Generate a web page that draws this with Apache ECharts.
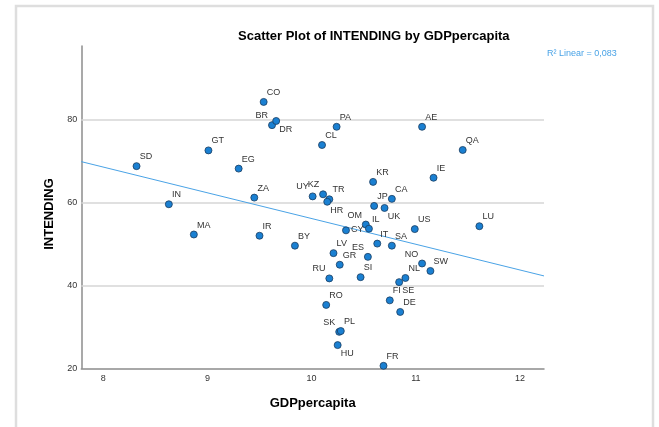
<!DOCTYPE html>
<html>
<head>
<meta charset="utf-8">
<script src="https://cdn.jsdelivr.net/npm/echarts@6/dist/echarts.min.js"></script>
<style>
html,body{margin:0;padding:0;background:#fff;}
#chart{width:659px;height:427px;}
</style>
</head>
<body>
<div id="chart"></div>
<script>
// ---- data ----
const countries = ['CO','BR','DR','GT','SD','EG','ZA','IN','MA','IR','BY','PA','AE','CL','QA','KR','IE','UY','KZ','TR','HR','CA','JP','UK','OM','IL','CY','US','LU','IT','SA','LV','ES','GR','NO','SW','NL','RU','SI','SE','FI','DE','RO','SK','PL','HU','FR'];
const gdpPerCapita = [9.54,9.62,9.66,9.01,8.32,9.30,9.45,8.63,8.87,9.50,9.84,10.24,11.06,10.10,11.45,10.59,11.17,10.01,10.11,10.17,10.15,10.77,10.60,10.70,10.52,10.55,10.33,10.99,11.61,10.63,10.77,10.21,10.54,10.27,11.06,11.14,10.90,10.17,10.47,10.84,10.75,10.85,10.14,10.265,10.28,10.25,10.69];
const intending = [84.3,78.7,79.7,72.6,68.8,68.2,61.2,59.6,52.3,52.0,49.6,78.3,78.3,73.9,72.7,65.0,66.0,61.5,62.0,60.8,60.2,60.9,59.2,58.7,54.7,53.7,53.3,53.6,54.3,50.1,49.6,47.8,46.9,45.0,45.3,43.5,41.8,41.7,42.0,40.8,36.4,33.6,35.3,28.8,29.0,25.6,20.6];
const xTicks = [8, 9, 10, 11, 12];
const yTicks = [20, 40, 60, 80];
const xRange = [7.79, 12.23];
const yRange = [20, 97.8];
const chartTitle = 'Scatter Plot of INTENDING by GDPpercapita';
const xTitle = 'GDPpercapita';
const yTitle = 'INTENDING';
const fitLabel = 'R\u00B2 Linear = 0,083';

// ---- label placement (layout only) ----
const labelPlace = {BR:'ul',DR:'lr',UY:'ul',KZ:'ul',HR:'lr',UK:'lr',OM:'ul',CY:'r',ES:'ul',NO:'ul',RU:'ul',SE:'lr',SK:'ul',HU:'lr'};
const placeCfg = {
  ur:{position:[7,-5.5],align:'left',verticalAlign:'middle'},
  ul:{position:[0,-5.5],align:'right',verticalAlign:'middle'},
  lr:{position:[7,12.5],align:'left',verticalAlign:'middle'},
  r:{position:[9,3.5],align:'left',verticalAlign:'middle'}
};

// least-squares fit computed from the data
const n = gdpPerCapita.length;
const mx = gdpPerCapita.reduce((a,b)=>a+b,0)/n;
const my = intending.reduce((a,b)=>a+b,0)/n;
let sxy=0, sxx=0;
for(let i=0;i<n;i++){sxy+=(gdpPerCapita[i]-mx)*(intending[i]-my);sxx+=(gdpPerCapita[i]-mx)**2;}
const slope = sxy/sxx, icpt = my - slope*mx;
const fitData = xRange.map(x=>[x, icpt+slope*x]);

const points = countries.map((c,i)=>({
  name:c, value:[gdpPerCapita[i], intending[i]],
  label:Object.assign({show:true, formatter:'{b}'}, placeCfg[labelPlace[c]||'ur'])
}));

const FONT = 'Liberation Sans, Arial, sans-serif';
const chart = echarts.init(document.getElementById('chart'));
chart.setOption({
  animation:false,
  backgroundColor:'#ffffff',
  title:{text:chartTitle,left:238,top:30,padding:0,
    textStyle:{fontFamily:FONT,fontSize:13,fontWeight:'bold',color:'#000'}},
  graphic:[
    {type:'rect',shape:{x:16,y:6,width:637,height:440},style:{fill:'none',stroke:'#dedede',lineWidth:2.5},z:-1},
    {type:'text',x:547,y:53.5,style:{text:fitLabel,fill:'#4aa3e6',font:'9px "Liberation Sans", Arial, sans-serif',verticalAlign:'middle'}},
    {type:'text',x:49,y:214,rotation:Math.PI/2,
      style:{text:yTitle,fill:'#000',font:'bold 13px "Liberation Sans", Arial, sans-serif',align:'center',verticalAlign:'middle'}}
  ],
  grid:{left:81.3,right:115,top:46,bottom:58.7,containLabel:false},
  xAxis:{type:'value',min:xRange[0],max:xRange[1],minInterval:1,maxInterval:1,
    name:xTitle,nameLocation:'middle',nameGap:29,
    nameTextStyle:{fontFamily:FONT,fontSize:13,fontWeight:'bold',color:'#000'},
    axisLine:{show:true,lineStyle:{color:'#8c8c8c',width:1.5}},
    axisTick:{show:false},splitLine:{show:false},
    axisLabel:{showMinLabel:false,showMaxLabel:false,margin:6,color:'#333',fontSize:9,fontFamily:FONT,
      formatter:v=>xTicks.includes(Math.round(v*1000)/1000)?String(v):''}},
  yAxis:{type:'value',min:yRange[0],max:yRange[1],interval:20,
    axisLine:{show:true,lineStyle:{color:'#8c8c8c',width:1.5}},
    axisTick:{show:false},splitLine:{show:false},
    axisLabel:{showMaxLabel:false,margin:4,color:'#333',fontSize:9,fontFamily:FONT,
      formatter:v=>yTicks.includes(v)?String(v):''}},
  series:[
    {type:'line',data:fitData,showSymbol:false,symbol:'none',silent:true,z:2,
      lineStyle:{color:'#4aa3e6',width:1},
      markLine:{silent:true,symbol:'none',label:{show:false},z:1,
        lineStyle:{color:'#d6d6d6',width:1.5,type:'solid'},
        data:yTicks.filter(t=>t>yRange[0]).map(t=>({yAxis:t}))}},
    {type:'scatter',data:points,symbol:'circle',symbolSize:7,z:3,
      itemStyle:{color:'#1a80d2',borderColor:'#1b3c60',borderWidth:0.8,opacity:1},
      label:{color:'#333',fontSize:9,fontFamily:FONT}}
  ]
});
</script>
</body>
</html>
